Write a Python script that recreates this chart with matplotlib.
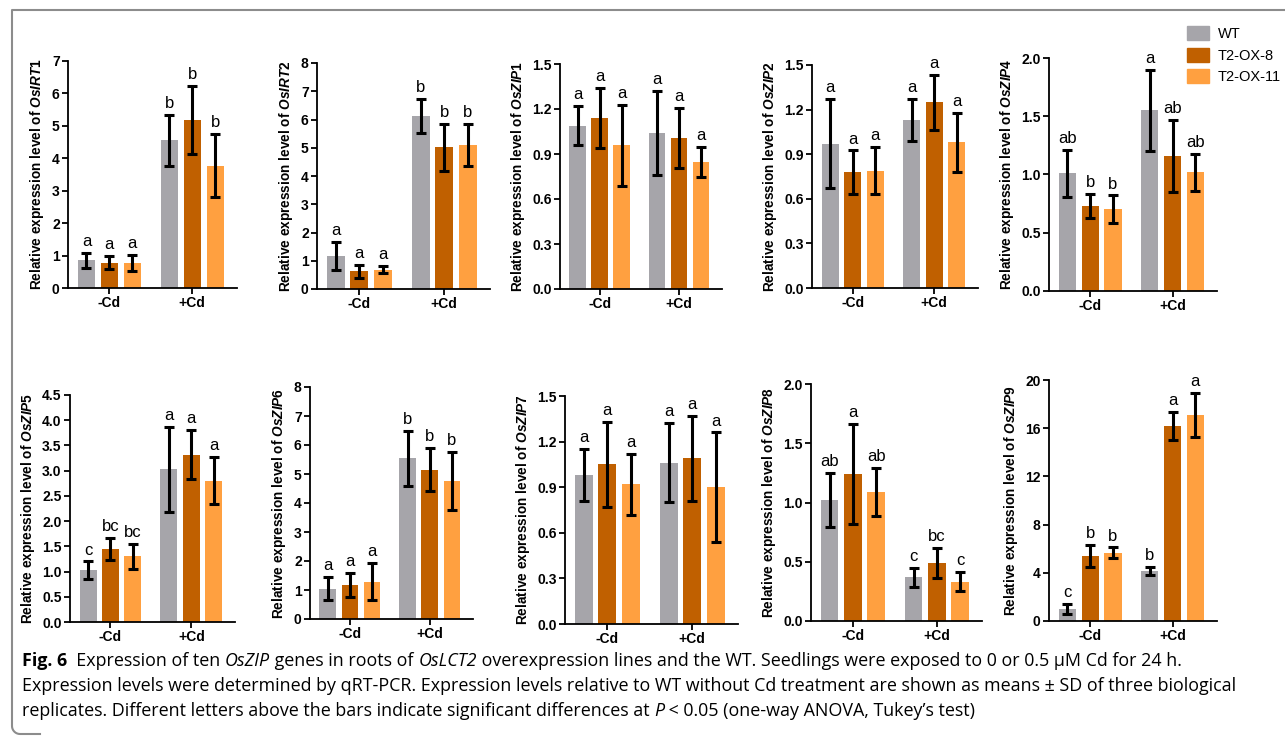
import numpy as np
import matplotlib
matplotlib.use('Agg')
import matplotlib.pyplot as plt
from matplotlib.patches import Patch
from matplotlib.lines import Line2D

plt.rcParams['font.family'] = ['Liberation Sans', 'DejaVu Sans']
plt.rcParams['mathtext.fontset'] = 'custom'
plt.rcParams['mathtext.it'] = 'Liberation Sans:italic:bold'
plt.rcParams['mathtext.rm'] = 'Liberation Sans:bold'
plt.rcParams['mathtext.bf'] = 'Liberation Sans:bold'

groups = ['-Cd', '+Cd']
lines = ['WT', 'T2-OX-8', 'T2-OX-11']
colors = ['#a6a5aa', '#c06000', '#ffa040']

# values per gene: rows = -Cd, +Cd ; columns = WT, OX-8, OX-11
irt1_mean = [[0.85, 0.78, 0.77], [4.55, 5.18, 3.77]]
irt1_sd = [[0.23, 0.20, 0.25], [0.78, 1.05, 0.97]]
irt1_let = [['a', 'a', 'a'], ['b', 'b', 'b']]

irt2_mean = [[1.18, 0.63, 0.69], [6.13, 5.01, 5.09]]
irt2_sd = [[0.50, 0.23, 0.11], [0.60, 0.82, 0.75]]
irt2_let = [['a', 'a', 'a'], ['b', 'b', 'b']]

zip1_mean = [[1.09, 1.14, 0.96], [1.04, 1.01, 0.85]]
zip1_sd = [[0.13, 0.20, 0.27], [0.28, 0.20, 0.10]]
zip1_let = [['a', 'a', 'a'], ['a', 'a', 'a']]

zip2_mean = [[0.97, 0.78, 0.79], [1.13, 1.25, 0.98]]
zip2_sd = [[0.30, 0.145, 0.16], [0.14, 0.185, 0.20]]
zip2_let = [['a', 'a', 'a'], ['a', 'a', 'a']]

zip4_mean = [[1.01, 0.73, 0.70], [1.55, 1.16, 1.02]]
zip4_sd = [[0.20, 0.10, 0.12], [0.35, 0.31, 0.16]]
zip4_let = [['ab', 'b', 'b'], ['a', 'ab', 'ab']]

zip5_mean = [[1.03, 1.44, 1.30], [3.03, 3.32, 2.80]]
zip5_sd = [[0.17, 0.22, 0.24], [0.84, 0.48, 0.47]]
zip5_let = [['c', 'bc', 'bc'], ['a', 'a', 'a']]

zip6_mean = [[1.05, 1.18, 1.28], [5.55, 5.15, 4.75]]
zip6_sd = [[0.40, 0.42, 0.64], [0.95, 0.75, 1.00]]
zip6_let = [['a', 'a', 'a'], ['b', 'b', 'b']]

zip7_mean = [[0.98, 1.05, 0.92], [1.06, 1.09, 0.90]]
zip7_sd = [[0.17, 0.28, 0.20], [0.26, 0.28, 0.36]]
zip7_let = [['a', 'a', 'a'], ['a', 'a', 'a']]

zip8_mean = [[1.02, 1.24, 1.09], [0.37, 0.49, 0.33]]
zip8_sd = [[0.23, 0.42, 0.20], [0.08, 0.13, 0.08]]
zip8_let = [['ab', 'a', 'ab'], ['c', 'bc', 'c']]

zip9_mean = [[1.0, 5.4, 5.65], [4.15, 16.2, 17.1]]
zip9_sd = [[0.4, 0.9, 0.45], [0.35, 1.15, 1.8]]
zip9_let = [['c', 'b', 'b'], ['b', 'a', 'a']]

genes = ['OsIRT1', 'OsIRT2', 'OsZIP1', 'OsZIP2', 'OsZIP4',
         'OsZIP5', 'OsZIP6', 'OsZIP7', 'OsZIP8', 'OsZIP9']
y_max = [7, 8, 1.5, 1.5, 2.0, 4.5, 8, 1.5, 2.0, 20]
y_step = [1, 1, 0.3, 0.3, 0.5, 0.5, 1, 0.3, 0.5, 4]

panels = list(zip(genes,
                  [irt1_mean, irt2_mean, zip1_mean, zip2_mean, zip4_mean,
                   zip5_mean, zip6_mean, zip7_mean, zip8_mean, zip9_mean],
                  [irt1_sd, irt2_sd, zip1_sd, zip2_sd, zip4_sd,
                   zip5_sd, zip6_sd, zip7_sd, zip8_sd, zip9_sd],
                  [irt1_let, irt2_let, zip1_let, zip2_let, zip4_let,
                   zip5_let, zip6_let, zip7_let, zip8_let, zip9_let],
                  y_max, y_step))

W, H = 1285, 736
fig = plt.figure(figsize=(W / 100, H / 100), dpi=100)

# axes boxes in pixels: left, top, right, bottom
boxes = [(68, 61, 237, 288), (317, 63, 490, 289), (560, 64, 722, 289),
         (812, 65, 978, 288), (1049, 58, 1217, 291),
         (70, 395, 235, 622), (310, 387, 473, 619), (565, 396, 738, 624),
         (811, 384, 982, 621), (1049, 380, 1217, 621)]

for (x0, y0, x1, y1), (gene, mean, sd, let, ym, ys) in zip(boxes, panels):
    ax = fig.add_axes([x0 / W, 1 - y1 / H, (x1 - x0) / W, (y1 - y0) / H])
    mean = np.array(mean)
    sd = np.array(sd)
    xg = np.arange(len(groups))
    for j in range(3):
        x = xg + (j - 1) * 0.277
        ax.bar(x, mean[:, j], width=0.21, color=colors[j], zorder=2)
        ax.errorbar(x, mean[:, j], yerr=sd[:, j], fmt='none', ecolor='black',
                    elinewidth=2.2, capsize=3.3, capthick=2.2, zorder=3)
        for k in range(len(groups)):
            ax.annotate(let[k][j], (x[k], mean[k, j] + sd[k, j]),
                        xytext=(0, 5), textcoords='offset points',
                        ha='center', va='baseline', fontsize=12)
    ax.set_xlim(-0.5, 1.54)
    ax.set_ylim(0, ym)
    ticks = np.arange(0, ym + ys / 2, ys)
    ax.set_yticks(ticks)
    dec = 0 if float(ys).is_integer() else 1
    ax.set_yticklabels([f'{t:.{dec}f}' for t in ticks])
    ax.set_xticks(xg)
    ax.set_xticklabels(groups)
    for s in ['top', 'right']:
        ax.spines[s].set_visible(False)
    for s in ['left', 'bottom']:
        ax.spines[s].set_linewidth(1.3)
    ax.tick_params(length=4, width=1.3, labelsize=10, pad=2)
    for lab in ax.get_xticklabels() + ax.get_yticklabels():
        lab.set_fontweight('bold')
    ax.set_ylabel(r'Relative expression level of $\mathit{' + gene + '}$',
                  fontsize=9.8, fontweight='bold', labelpad=4)

fig.legend(handles=[Patch(color=c) for c in colors], labels=lines,
           loc='upper left', bbox_to_anchor=(1174 / W, 1 - 13 / H),
           frameon=False, handlelength=1.5, handleheight=1.1,
           fontsize=10.5, labelspacing=0.45, handletextpad=0.6)

# figure frame (top and left edges, rounded bottom-left corner)
ang = np.linspace(np.pi, 1.5 * np.pi, 10)
fx = [W, 12, 12] + list(20 + 8 * np.cos(ang)) + [40]
fy = [10, 10, 726] + list(726 - 8 * np.sin(ang)) + [734]
fig.add_artist(Line2D(np.array(fx) / W, 1 - np.array(fy) / H,
                      transform=fig.transFigure, color='#8c8c8c', lw=1.5))

# caption with mixed styles
cap_font = ['Open Sans', 'DejaVu Sans']
renderer = fig.canvas.get_renderer()


def text_w(s, **kw):
    t = fig.text(0, 0, s, **kw)
    w = t.get_window_extent(renderer).width
    t.remove()
    return w


cap1 = [('Fig. 6', 'normal', 'bold'), ('  Expression of ten ', 'normal', 'normal'),
        ('OsZIP', 'italic', 'normal'), (' genes in roots of ', 'normal', 'normal'),
        ('OsLCT2', 'italic', 'normal'),
        (' overexpression lines and the WT. Seedlings were exposed to 0 or 0.5 \u00b5M Cd for 24 h.',
         'normal', 'normal')]
cap2 = [('Expression levels were determined by qRT-PCR. Expression levels relative to WT '
         'without Cd treatment are shown as means \u00b1 SD of three biological', 'normal', 'normal')]
cap3 = [('replicates. Different letters above the bars indicate significant differences at ',
         'normal', 'normal'), ('P', 'italic', 'normal'),
        (' < 0.05 (one-way ANOVA, Tukey\u2019s test)', 'normal', 'normal')]

# fit the second caption line to the width it has in the reference
cap_size = 10 * 1215 / text_w(cap2[0][0], fontsize=10, family=cap_font)


def draw_runs(x, y, runs):
    for s, style, weight in runs:
        kw = dict(fontsize=cap_size, family=cap_font, style=style, weight=weight)
        fig.text(x / W, 1 - y / H, s, va='baseline', ha='left', **kw)
        x += text_w('x' + s + 'x', **kw) - text_w('xx', **kw)


for yb, runs in zip([666, 691, 716], [cap1, cap2, cap3]):
    draw_runs(22, yb, runs)

fig.savefig('out.png', dpi=100)
